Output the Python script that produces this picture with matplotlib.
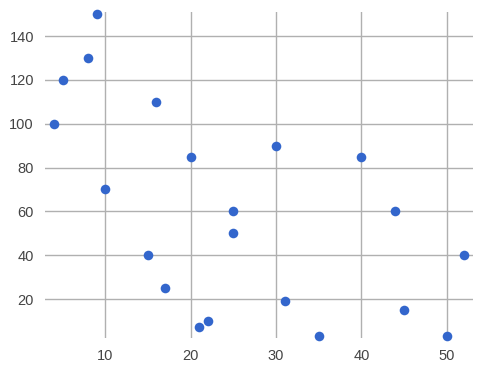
import matplotlib.pyplot as plt

x_values = [9, 8, 5, 16, 4, 20, 30, 40, 10, 25, 44, 25, 15, 52, 17, 31, 22, 21, 45, 35, 50]
y_values = [150, 130, 120, 110, 100, 85, 90, 85, 70, 60, 60, 50, 40, 40, 25, 19, 10, 7, 15, 3, 3]
x_ticks = [10, 20, 30, 40, 50]
y_ticks = [20, 40, 60, 80, 100, 120, 140]

W, H, DPI = 479, 370, 100
fig = plt.figure(figsize=(W / DPI, H / DPI), dpi=DPI)
left, right, top, bottom = 45, 473, 12, 338
ax = fig.add_axes([left / W, 1 - bottom / H, (right - left) / W, (bottom - top) / H])

ax.scatter(x_values, y_values, s=48, color="#3366cc", zorder=3, linewidths=0, clip_on=False)
ax.set_xlim(2.94, 53.08)
ax.set_ylim(2.2, 151)
ax.set_xticks(x_ticks)
ax.set_yticks(y_ticks)
ax.grid(True, color="#b0b0b0", linewidth=1)
ax.set_axisbelow(True)
for spine in ax.spines.values():
    spine.set_visible(False)
ax.tick_params(length=0, labelsize=10.5, labelcolor="#444444", pad=8)
for lbl in ax.get_xticklabels() + ax.get_yticklabels():
    lbl.set_fontfamily("Liberation Sans")

fig.savefig("out.png", dpi=DPI)
